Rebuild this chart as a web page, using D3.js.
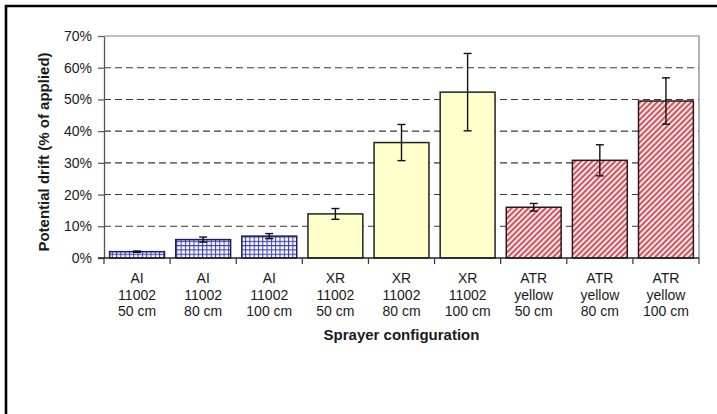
<!DOCTYPE html>
<html>
<head>
<meta charset="utf-8">
<script src="https://cdn.jsdelivr.net/npm/d3@7/dist/d3.min.js"></script>
<style>
  html, body { margin: 0; padding: 0; background: #fff; }
  svg { display: block; }
  text { font-family: "Liberation Sans", Arial, sans-serif; fill: #1a1a1a; }
</style>
</head>
<body>
<svg id="chart" width="717" height="414"></svg>
<script>
// Sprayer configurations (three label lines per bar)
const nozzleTypes = ["AI", "AI", "AI", "XR", "XR", "XR", "ATR", "ATR", "ATR"];
const nozzleSizes = ["11002", "11002", "11002", "11002", "11002", "11002", "yellow", "yellow", "yellow"];
const boomHeights = ["50 cm", "80 cm", "100 cm", "50 cm", "80 cm", "100 cm", "50 cm", "80 cm", "100 cm"];
// Potential drift, % of applied, with error bar half-widths
const driftMean = [2.0, 5.8, 6.9, 13.9, 36.4, 52.3, 16.0, 30.8, 49.5];
const driftErr  = [0.2, 0.8, 0.8, 1.7, 5.7, 12.2, 1.2, 4.9, 7.3];
const nozzleGroups = ["AI", "XR", "ATR"];
const yTicks = [0, 10, 20, 30, 40, 50, 60, 70];

const svg = d3.select("#chart");
const W = 717, H = 414;
const plot = { left: 104, right: 699, top: 36, bottom: 258 };

// Outer frame
svg.append("path")
  .attr("d", `M6,${H + 2} L6,6 L${W + 2},6`)
  .attr("fill", "none").attr("stroke", "#000").attr("stroke-width", 2.6);

// Fill patterns for each nozzle group
const defs = svg.append("defs");
const grid = defs.append("pattern").attr("id", "pat-AI")
  .attr("patternUnits", "userSpaceOnUse").attr("width", 4.3).attr("height", 4.3);
grid.append("rect").attr("width", 4.3).attr("height", 4.3).attr("fill", "#fafaff");
grid.append("path").attr("d", "M0,0.5 H4.3 M0.5,0 V4.3")
  .attr("stroke", "#3c3cb0").attr("stroke-width", 1);

defs.append("pattern").attr("id", "pat-XR")
  .attr("patternUnits", "userSpaceOnUse").attr("width", 4).attr("height", 4)
  .append("rect").attr("width", 4).attr("height", 4).attr("fill", "#ffffcc");

const hatch = defs.append("pattern").attr("id", "pat-ATR")
  .attr("patternUnits", "userSpaceOnUse").attr("width", 4).attr("height", 4)
  .attr("patternTransform", "rotate(45)");
hatch.append("rect").attr("width", 4).attr("height", 4).attr("fill", "#fbe9ea");
hatch.append("rect").attr("width", 1.9).attr("height", 4).attr("fill", "#cf4c56");

const groupFill = d3.scaleOrdinal().domain(nozzleGroups)
  .range(["url(#pat-AI)", "url(#pat-XR)", "url(#pat-ATR)"]);
const groupStroke = d3.scaleOrdinal().domain(nozzleGroups)
  .range(["#1c1c5c", "#222", "#2a1a1a"]);

const idx = d3.range(driftMean.length);
const x = d3.scaleBand().domain(idx).range([plot.left, plot.right])
  .paddingInner(0.17).paddingOuter(0.085);
const y = d3.scaleLinear().domain([0, 70]).range([plot.bottom, plot.top]);

// Dashed gridlines
svg.append("g").selectAll("line")
  .data(yTicks.filter(t => t > 0 && t < 70))
  .join("line")
  .attr("x1", plot.left).attr("x2", plot.right)
  .attr("y1", d => y(d)).attr("y2", d => y(d))
  .attr("stroke", "#3a3a3a").attr("stroke-width", 1.1)
  .attr("stroke-dasharray", "7,4");

// Plot area top and right edge
svg.append("path")
  .attr("d", `M${plot.left},${plot.top} H${plot.right} V${plot.bottom}`)
  .attr("fill", "none").attr("stroke", "#808080").attr("stroke-width", 1.2);

// Bars
svg.append("g").selectAll("rect")
  .data(idx)
  .join("rect")
  .attr("x", i => x(i))
  .attr("width", x.bandwidth())
  .attr("y", i => y(driftMean[i]))
  .attr("height", i => y(0) - y(driftMean[i]))
  .attr("fill", i => groupFill(nozzleTypes[i]))
  .attr("stroke", i => groupStroke(nozzleTypes[i]))
  .attr("stroke-width", 1.5);

// Error bars
const eb = svg.append("g").attr("stroke", "#111").attr("stroke-width", 1.4);
idx.forEach(i => {
  const cx = x(i) + x.bandwidth() / 2;
  const y1 = y(driftMean[i] + driftErr[i]), y2 = y(driftMean[i] - driftErr[i]);
  eb.append("line").attr("x1", cx).attr("x2", cx).attr("y1", y1).attr("y2", y2);
  eb.append("line").attr("x1", cx - 4).attr("x2", cx + 4).attr("y1", y1).attr("y2", y1);
  eb.append("line").attr("x1", cx - 4).attr("x2", cx + 4).attr("y1", y2).attr("y2", y2);
});

// Y axis
const yAxis = svg.append("g")
  .attr("transform", `translate(${plot.left},0)`)
  .call(d3.axisLeft(y).tickValues(yTicks).tickFormat(d => d + "%")
    .tickSizeInner(6).tickSizeOuter(0).tickPadding(6));
yAxis.select(".domain").attr("stroke", "#555").attr("stroke-width", 1.3);
yAxis.selectAll(".tick line").attr("stroke", "#555").attr("stroke-width", 1.2);
yAxis.selectAll(".tick text")
  .style("font-family", "'Liberation Sans', Arial, sans-serif")
  .style("font-size", "14px").attr("fill", "#1a1a1a");

// X axis with ticks at category boundaries
const step = x.step();
const boundaries = d3.range(driftMean.length + 1).map(k =>
  k < driftMean.length ? x(k) - step * x.paddingInner() / 2 : plot.right);
const xAxisG = svg.append("g");
xAxisG.append("line")
  .attr("x1", plot.left - 6).attr("x2", plot.right)
  .attr("y1", plot.bottom).attr("y2", plot.bottom)
  .attr("stroke", "#222").attr("stroke-width", 1.4);
xAxisG.selectAll("line.tk").data(boundaries).join("line").attr("class", "tk")
  .attr("x1", d => d).attr("x2", d => d)
  .attr("y1", plot.bottom).attr("y2", plot.bottom + 6)
  .attr("stroke", "#333").attr("stroke-width", 1.2);

// Category labels
const lab = svg.append("g").attr("text-anchor", "middle")
  .style("font-size", "14px");
idx.forEach(i => {
  const cx = x(i) + x.bandwidth() / 2;
  [nozzleTypes[i], nozzleSizes[i], boomHeights[i]].forEach((t, j) => {
    lab.append("text").attr("x", cx).attr("y", 283 + j * 16.6).text(t);
  });
});

// Axis titles
svg.append("text")
  .attr("x", (plot.left + plot.right) / 2).attr("y", 340)
  .attr("text-anchor", "middle")
  .style("font-size", "15px").style("font-weight", "bold")
  .text("Sprayer configuration");

svg.append("text")
  .attr("transform", `translate(49,${(plot.top + plot.bottom) / 2 + 5}) rotate(-90)`)
  .attr("text-anchor", "middle")
  .style("font-size", "15px").style("font-weight", "bold")
  .text("Potential drift (% of applied)");
</script>
</body>
</html>
